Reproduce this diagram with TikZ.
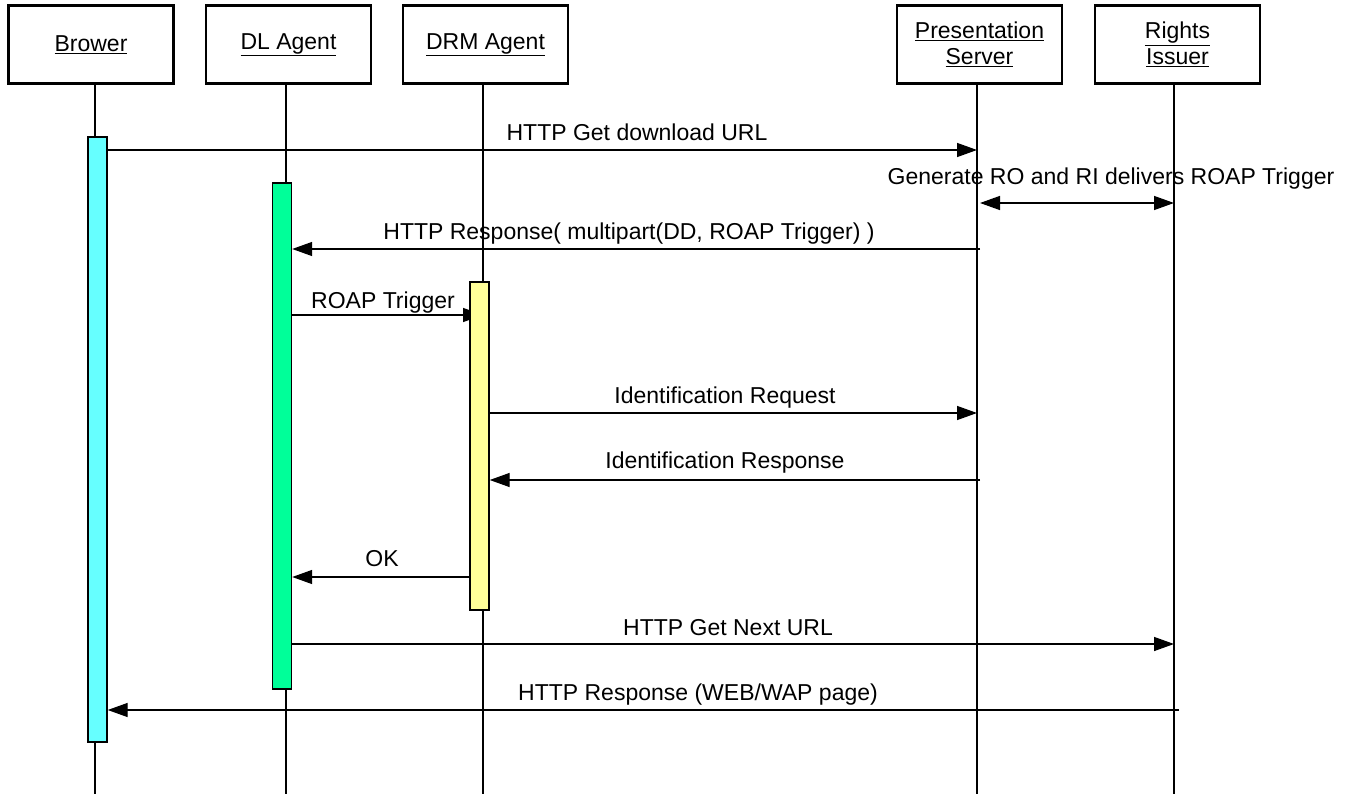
\documentclass[tikz,border=0pt]{standalone}
\usepackage{fontspec}
\setmainfont{Liberation Sans}
\usetikzlibrary{arrows.meta,backgrounds}
\definecolor{barcyan}{HTML}{66FFFF}
\definecolor{bargreen}{HTML}{00FF99}
\definecolor{baryellow}{HTML}{FFFF99}
\begin{document}
\begin{tikzpicture}[x=1pt,y=-1pt,
  actor/.style={draw,line width=2.4pt,minimum width=165pt,minimum height=78pt,inner sep=0pt,align=center,font=\fontsize{23}{26}\selectfont},
  life/.style={line width=1.4pt},
  bar/.style={draw,line width=1.4pt,minimum width=19pt,inner sep=0pt},
  msg/.style={line width=1.4pt,-{Triangle[length=20pt,width=14pt]}},
  dmsg/.style={line width=1.4pt,{Triangle[length=20pt,width=14pt]}-{Triangle[length=20pt,width=14pt]}},
  lbl/.style={font=\fontsize{23}{26}\selectfont,inner sep=0pt,anchor=base}]
\useasboundingbox (0,0) rectangle (1351,794);
% actors
\node[actor] (br) at (91,44.5) {\underline{Brower}};
\node[actor] (dl) at (288.5,44.5) {\underline{DL Agent}};
\node[actor] (drm) at (485.5,44.5) {\underline{DRM Agent}};
\node[actor] (ps) at (979.5,44.5) {\underline{Presentation}\\\underline{Server}};
\node[actor] (ri) at (1177.5,44.5) {\underline{Rights}\\\underline{Issuer}};
% lifeline ends
\coordinate (brx) at (95,794);
\coordinate (dlx) at (286,794);
\coordinate (drmx) at (483,794);
\coordinate (psx) at (977,794);
\coordinate (rix) at (1174,794);
% activation bars
\node[bar,fill=barcyan,minimum height=605pt] (brbar) at (97.5,439.5) {};
\node[bar,fill=bargreen,minimum height=506pt] (dlbar) at (282,436) {};
\node[bar,fill=baryellow,minimum height=328pt] (drmbar) at (479.5,446) {};
\begin{pgfonlayer}{background}
\draw[life] (br.south -| brx) -- (brx);
\draw[life] (dl.south -| dlx) -- (dlx);
\draw[life] (drm.south -| drmx) -- (drmx);
\draw[life] (ps.south -| psx) -- (psx);
\draw[life] (ri.south -| rix) -- (rix);
% messages
\draw[msg] (brbar.east |- 0,150) -- (psx |- 0,150);
\draw[dmsg] ([xshift=3pt]psx |- 0,203) -- (rix |- 0,203);
\draw[msg] ([xshift=3pt]psx |- 0,249) -- (dlbar.east |- 0,249);
\draw[msg] (dlbar.east |- 0,315) -- (drmx |- 0,315);
\draw[msg] (drmbar.east |- 0,413) -- (psx |- 0,413);
\draw[msg] ([xshift=3pt]psx |- 0,480) -- (drmbar.east |- 0,480);
\draw[msg] (drmbar.west |- 0,577) -- (dlbar.east |- 0,577);
\draw[msg] (dlbar.east |- 0,644) -- (rix |- 0,644);
\draw[msg] ([xshift=5pt]rix |- 0,710) -- (brbar.east |- 0,710);
\end{pgfonlayer}
% labels
\node[lbl] (l1) at (637,141) {HTTP Get download URL};
\node[lbl] (l2) at (1111,185) {Generate RO and RI delivers ROAP Trigger};
\node[lbl] (l3) at (629,240) {HTTP Response( multipart(DD, ROAP Trigger) )};
\node[lbl] (l4) at (383,308) {ROAP Trigger};
\node[lbl] (l5) at (725,403) {Identification Request};
\node[lbl] (l6) at (725,468) {Identification Response};
\node[lbl] (l7) at (382,566) {OK};
\node[lbl] (l8) at (728,635) {HTTP Get Next URL};
\node[lbl] (l9) at (698,700) {HTTP Response (WEB/WAP page)};
\end{tikzpicture}
\end{document}
